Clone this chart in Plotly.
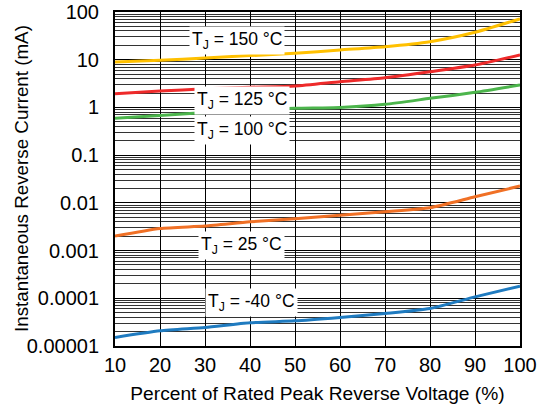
import math
import plotly.graph_objects as go

x_pct = [10, 20, 30, 40, 50, 60, 70, 80, 90, 100]
i_150 = [8.95, 9.7, 10.8, 12.2, 13.6, 16.0, 18.7, 23.8, 37.5, 72.0]
i_125 = [1.94, 2.2, 2.45, 2.65, 2.81, 3.46, 4.2, 5.6, 7.74, 12.6]
i_100 = [0.59, 0.68, 0.78, 0.88, 0.96, 1.0, 1.16, 1.55, 2.07, 2.95]
i_25 = [0.00201, 0.0029, 0.00327, 0.0040, 0.00464, 0.00547, 0.00652, 0.0079, 0.0134, 0.0225]
i_m40 = [1.51e-5, 2.08e-5, 2.45e-5, 3.06e-5, 3.37e-5, 3.98e-5, 4.8e-5, 6.1e-5, 1.07e-4, 1.8e-4]

series = [
    ("150", i_150, "#FFC000"),
    ("125", i_125, "#EE2A2A"),
    ("100", i_100, "#4CB54C"),
    ("25", i_25, "#F07025"),
    ("-40", i_m40, "#1F7BC0"),
]

label_text = ["T<sub>J</sub> = 150 °C", "T<sub>J</sub> = 125 °C", "T<sub>J</sub> = 100 °C",
              "T<sub>J</sub> = 25 °C", "T<sub>J</sub> = -40 °C"]
label_x = [37.0, 38.2, 38.2, 38.2, 40.4]
label_y = [24.7, 1.43, 0.336, 0.0013, 8.3e-5]

y_tickvals = [1e-5, 1e-4, 1e-3, 1e-2, 1e-1, 1, 10, 100]
y_ticktext = ["0.00001", "0.0001", "0.001", "0.01", "0.1", "1", "10", "100"]
x_tickvals = [10, 20, 30, 40, 50, 60, 70, 80, 90, 100]

x_title = "Percent of Rated Peak Reverse Voltage (%)"
y_title = "Instantaneous Reverse Current (mA)"

fig = go.Figure()
for name, vals, col in series:
    fig.add_trace(go.Scatter(x=x_pct, y=vals, mode="lines", name=name,
                             line=dict(color=col, width=3, shape="spline", smoothing=0.6),
                             showlegend=False))

for t, lx, ly in zip(label_text, label_x, label_y):
    fig.add_annotation(x=lx, y=math.log10(ly), yref="y", xref="x", text=t, showarrow=False,
                       bgcolor="white", font=dict(size=17.5, color="black"),
                       borderpad=2)

# y-axis title as rotated text
fig.add_annotation(x=-(115 - 21) / 405, y=0.5, xref="paper", yref="paper", text=y_title,
                   textangle=-90, showarrow=False, xanchor="center", yanchor="middle",
                   font=dict(size=18.8, color="black"))

fig.update_xaxes(range=[10, 100], tickvals=x_tickvals, showgrid=True, gridcolor="black",
                 gridwidth=1, showline=True, linecolor="black", linewidth=2, mirror=True,
                 ticks="", tickfont=dict(size=20, color="black"), automargin=False,
                 title=dict(text=x_title, font=dict(size=19.2, color="black"), standoff=12),
                 zeroline=False)
fig.update_yaxes(type="log", range=[-5, 2], tickvals=y_tickvals, ticktext=y_ticktext,
                 showgrid=True, gridcolor="black", gridwidth=1, automargin=False,
                 showline=True, linecolor="black", linewidth=2, mirror=True,
                 ticks="", tickfont=dict(size=20, color="black"), ticklabelstandoff=10,
                 minor=dict(dtick="D1", showgrid=True, gridcolor="#333333", gridwidth=1, ticks=""),
                 zeroline=False)

fig.update_layout(width=540, height=414, margin=dict(l=115, r=20, t=12, b=68),
                  plot_bgcolor="white", paper_bgcolor="white",
                  font=dict(family="Liberation Sans, Arial, sans-serif", color="black"))

fig.write_html("out.html", config={"displayModeBar": False},
               post_script="document.body.style.margin='0';")
